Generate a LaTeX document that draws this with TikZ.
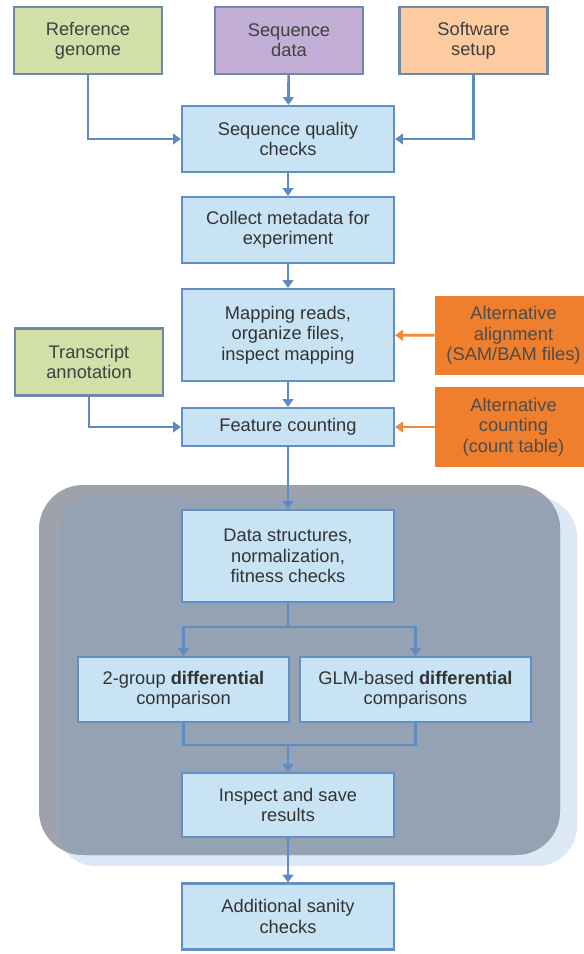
\documentclass[tikz,border=0pt]{standalone}
\usepackage{fontspec}
\setmainfont{Liberation Sans}
\usetikzlibrary{positioning,arrows.meta,shadows}
\definecolor{flowblue}{HTML}{C8E4F4}
\definecolor{edgeblue}{HTML}{6290C4}
\definecolor{linkblue}{HTML}{5E8CC2}
\definecolor{topedge}{HTML}{7089A8}
\definecolor{genomegreen}{HTML}{D3DFA8}
\definecolor{seqpurple}{HTML}{C3AED6}
\definecolor{setuppeach}{HTML}{FCCB9F}
\definecolor{altorange}{HTML}{F07F2D}
\definecolor{altlink}{HTML}{EE8A3C}
\definecolor{regiongray}{HTML}{9DA2AD}
\definecolor{regioninner}{HTML}{95A2B4}
\definecolor{regionpale}{HTML}{DCE9F4}

\begin{document}
\begin{tikzpicture}[
  x=0.025cm, y=-0.025cm,
  font=\fontsize{13}{14.5}\selectfont,
  stepbox/.style={draw=edgeblue, line width=1.5pt, fill=flowblue, align=center,
                  minimum width=5.3cm, minimum height=1.65cm, inner sep=2pt, text=black!80,
                  drop shadow={shadow xshift=1pt, shadow yshift=-1pt, opacity=0.3}},
  inbox/.style={draw=topedge, line width=1.5pt, align=center, minimum width=3.7cm,
                minimum height=1.675cm, inner sep=2pt, text=black!75,
                drop shadow={shadow xshift=1pt, shadow yshift=-1pt, opacity=0.3}},
  altbox/.style={fill=altorange, align=center, minimum width=3.925cm, minimum height=1.95cm,
                 inner sep=2pt, text=black!70},
  link/.style={draw=linkblue, line width=1.9pt},
  arrow/.style={link, -{Triangle[length=5.5pt, width=7.5pt]}},
  altarrow/.style={draw=altlink, line width=1.9pt, -{Triangle[length=5.5pt, width=7.5pt]}},
]
\useasboundingbox (0,0) rectangle (584,954);

% ================= shaded analysis region =================
\fill[regionpale, rounded corners=1cm] (56,497) rectangle (577,866);
\fill[regiongray, rounded corners=1.1cm] (39,485) rectangle (560,855);
\begin{scope}
  \clip[rounded corners=1.1cm] (39,485) rectangle (560,855);
  \fill[regioninner, rounded corners=0.85cm] (60,498) rectangle (577,866);
\end{scope}

% ================= inputs =================
\node[inbox, fill=genomegreen] (ref) at (88,40.5) {Reference\\genome};
\node[inbox, fill=seqpurple] (seq) at (289,40.5) {Sequence\\data};
\node[inbox, fill=setuppeach] (soft) at (473.5,40.5) {Software\\setup};

% ================= main flow =================
\node[stepbox] (qc) at (288,139) {Sequence quality\\checks};
\node[stepbox] (meta) at (288,230) {Collect metadata for\\experiment};
\node[stepbox, minimum height=2.3cm] (map) at (288,335) {Mapping reads,\\organize files,\\inspect mapping};
\node[stepbox, minimum height=0.95cm] (feat) at (288,427) {Feature counting};
\node[inbox, fill=genomegreen] (trans) at (89,362) {Transcript\\annotation};

% alternatives on the right
\node[altbox] (altalign) at (513.5,335.5) {Alternative\\alignment\\(SAM/BAM files)};
\node[altbox, minimum height=2cm] (altcount) at (513.5,427) {Alternative\\counting\\(count table)};

% ================= inside region =================
\node[stepbox, minimum height=2.3cm] (data) at (288,556) {Data structures,\\normalization,\\fitness checks};
\node[stepbox, minimum width=5.275cm, minimum height=1.625cm] (two) at (183.5,689.5)
     {2-group \textbf{differential}\\comparison};
\node[stepbox, minimum width=5.775cm, minimum height=1.625cm] (glm) at (415.5,689.5)
     {GLM-based \textbf{differential}\\comparisons};
\node[stepbox, minimum height=1.6cm] (insp) at (288,805) {Inspect and save\\results};
\node[stepbox] (add) at (288,916.5) {Additional sanity\\checks};

% ================= connectors =================
\draw[arrow] (seq) -- (qc);
\draw[arrow] (ref) |- (qc);
\draw[arrow] (soft) |- (qc);
\draw[arrow] (qc) -- (meta);
\draw[arrow] (meta) -- (map);
\draw[arrow] (map) -- (feat);
\draw[arrow] (trans) |- (feat);
\draw[altarrow] (altalign) -- (map);
\draw[altarrow] (altcount) -- (feat);
\draw[arrow] (feat) -- (data);

\coordinate (split) at (288,627);
\coordinate (merge) at (288,745);
\draw[link] (data) -- (split);
\draw[arrow] (split) -| (two);
\draw[arrow] (split) -| (glm);
\draw[link] (two) |- (merge);
\draw[link] (glm) |- (merge);
\draw[arrow] (merge) -- (insp);
\draw[arrow] (insp) -- (add);
\end{tikzpicture}
\end{document}
